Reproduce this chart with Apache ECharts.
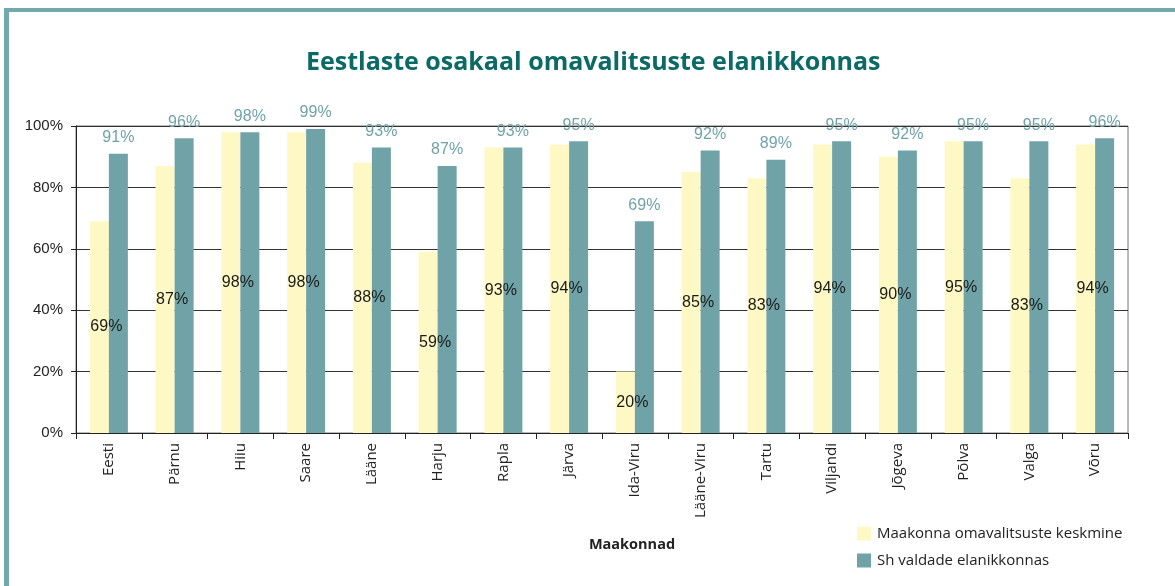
<!DOCTYPE html>
<html>
<head>
<meta charset="utf-8">
<script src="https://cdn.jsdelivr.net/npm/echarts@6/dist/echarts.min.js"></script>
<style>
html,body{margin:0;padding:0;background:#fff;}
#c{width:1175px;height:586px;}
</style>
</head>
<body>
<div id="c"></div>
<script>
const titleText = 'Eestlaste osakaal omavalitsuste elanikkonnas';
const categories = ['Eesti','Pärnu','Hiiu','Saare','Lääne','Harju','Rapla','Järva','Ida-Viru','Lääne-Viru','Tartu','Viljandi','Jõgeva','Põlva','Valga','Võru'];
const seriesNames = ['Maakonna omavalitsuste keskmine','Sh valdade elanikkonnas'];
const countyAvg = [69,87,98,98,88,59,93,94,20,85,83,94,90,95,83,94];
const ruralShare = [91,96,98,99,93,87,93,95,69,92,89,95,92,95,95,96];
const yTicks = [0,20,40,60,80,100];

const chart = echarts.init(document.getElementById('c'));
chart.setOption({
  animation:false,
  backgroundColor:'#fff',
  title:{
    text:titleText,
    left:306, top:50, padding:0,
    textStyle:{fontFamily:'Open Sans', fontWeight:'bold', fontSize:25, color:'#0b6a66'}
  },
  graphic:[
    {type:'rect', shape:{x:4,y:8,width:1171,height:4}, style:{fill:'#72a9ad'}},
    {type:'rect', shape:{x:4,y:8,width:5,height:578}, style:{fill:'#72a9ad'}}
  ],
  legend:{
    orient:'vertical', left:857, top:526, padding:0,
    itemWidth:14, itemHeight:14, itemGap:12,
    icon:'rect',
    textStyle:{fontFamily:'Open Sans', fontSize:15, color:'#222', padding:[0,0,0,1]},
    data:seriesNames
  },
  grid:{left:76, right:47, top:126, bottom:153, show:true, borderColor:'#777', borderWidth:1},
  xAxis:{
    type:'category', data:categories,
    name:'Maakonnad', nameLocation:'middle', nameGap:104,
    nameTextStyle:{fontFamily:'Open Sans', fontWeight:'bold', fontSize:14.5, color:'#222', padding:[0,0,0,60]},
    axisLine:{lineStyle:{color:'#222', width:1}},
    axisTick:{show:true, length:6, lineStyle:{color:'#222'}},
    axisLabel:{rotate:90, fontFamily:'Open Sans', fontSize:15, color:'#222', margin:10}
  },
  yAxis:{
    type:'value', min:0, max:100, interval:20,
    axisLine:{show:true, lineStyle:{color:'#222'}},
    axisTick:{show:true, length:5, lineStyle:{color:'#222'}},
    axisLabel:{formatter:'{value}%', fontFamily:'Liberation Sans', fontSize:15, color:'#222', margin:13},
    splitLine:{lineStyle:{color:'#333', width:1}}
  },
  series:[
    {
      name:seriesNames[0], type:'bar', data:countyAvg, barWidth:19, barGap:'0%',
      itemStyle:{color:'#fef8c4'},
      label:{show:true, position:'inside', offset:[7,0], formatter:'{c}%', fontFamily:'Liberation Sans', fontSize:16, color:'#1a1a1a'}
    },
    {
      name:seriesNames[1], type:'bar', data:ruralShare, barWidth:19,
      itemStyle:{color:'#6fa3a8'},
      label:{show:true, position:'top', distance:8, formatter:'{c}%', fontFamily:'Liberation Sans', fontSize:16, color:'#6fa3a8'}
    }
  ]
});
</script>
</body>
</html>
